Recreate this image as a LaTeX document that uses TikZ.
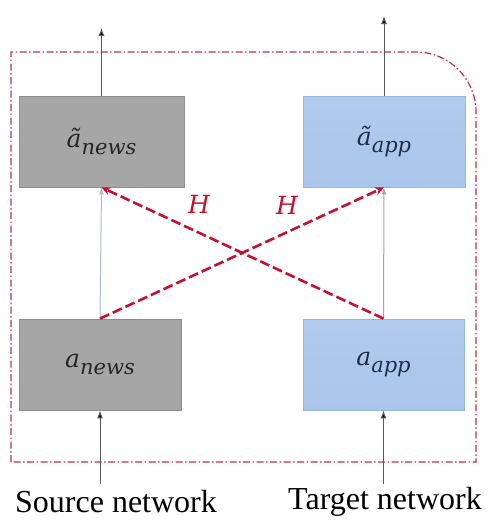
\documentclass[tikz,border=0pt]{standalone}
\usepackage{fontspec}
\newfontfamily\labelfont{Liberation Serif}
\newfontfamily\mathlikefont{DejaVu Serif}
\usetikzlibrary{arrows.meta}
\definecolor{boxgray}{HTML}{A6A6A6}
\definecolor{boxgrayline}{HTML}{8C8C8C}
\definecolor{boxblue}{HTML}{A9C5EB}
\definecolor{boxblueline}{HTML}{9AB6DC}
\definecolor{framered}{HTML}{C0304A}
\definecolor{hred}{HTML}{C8102E}
\definecolor{navytext}{HTML}{1F2D4A}
\definecolor{linkblue}{HTML}{A8BCCF}
\definecolor{linkgray}{HTML}{A6A6A6}
\newcommand{\boxlabel}[2]{{\mathlikefont\itshape\fontsize{25}{28}\selectfont #1\raisebox{-7pt}{\fontsize{21}{24}\selectfont #2}}}
\begin{document}
\begin{tikzpicture}[x=1pt,y=-1pt,
  graybox/.style={draw=boxgrayline,fill=boxgray,line width=0.8pt,inner sep=0pt,minimum height=91pt,text=black!85},
  bluebox/.style={draw=boxblueline,top color=boxblue!90!white,bottom color=boxblue,line width=0.8pt,inner sep=0pt,minimum height=91pt,text=navytext},
  hlink/.style={draw=hred,line width=2.6pt,dash pattern=on 10pt off 4pt,-{Stealth[length=9pt,width=8pt]}},
  outarrow/.style={draw=black!65,line width=1pt,-{Latex[length=8pt,width=6pt,fill=black]}},
  netlabel/.style={font=\labelfont\fontsize{32}{35}\selectfont,inner sep=0pt},
  hlabel/.style={text=hred,font=\mathlikefont\itshape\fontsize{25}{28}\selectfont,inner sep=0pt}]
\useasboundingbox (0,0) rectangle (498,522);
\fill[white] (0,0) rectangle (498,522);
% frame
\draw[framered,line width=1.2pt,dash pattern=on 7pt off 2.5pt on 1.5pt off 2.5pt] (11,462) -- (11,52) -- (416,52) arc(-90:0:60) -- (476,462) -- cycle;
% boxes
\node[graybox,minimum width=165pt] (tl) at (101.5,141.5) {\boxlabel{\~a}{news}};
\node[bluebox,minimum width=162pt] (tr) at (384,141.5) {\boxlabel{\~a}{app}};
\node[graybox,minimum width=162pt] (bl) at (100,364.5) {\boxlabel{a}{news}};
\node[bluebox,minimum width=161pt] (br) at (383.5,364.5) {\boxlabel{a}{app}};
% vertical links
\draw[draw=linkblue,line width=1pt,-{Latex[length=7pt,width=5pt]}] (bl.north) -- (tl.south);
\draw[draw=linkgray,line width=1pt,-{Latex[length=7pt,width=5pt]}] (br.north) -- (tr.south);
% H links
\draw[hlink] (bl.north) -- (tr.south);
\draw[hlink] (br.north) -- (tl.south);
\node[hlabel] (h1) at (199,204) {H};
\node[hlabel] (h2) at (287,205) {H};
% outputs
\coordinate (o1) at (101.5,28);
\coordinate (o2) at (384,16);
\draw[outarrow] (tl.north) -- (o1);
\draw[outarrow] (tr.north) -- (o2);
% labels and inputs
\node[netlabel] (src) at (116,502) {Source network};
\node[netlabel] (tgt) at (385,502) {Target network};
\coordinate (i1) at (100,484);
\coordinate (i2) at (383.5,484);
\draw[outarrow] (i1) -- (bl.south);
\draw[outarrow] (i2) -- (br.south);
\end{tikzpicture}
\end{document}
